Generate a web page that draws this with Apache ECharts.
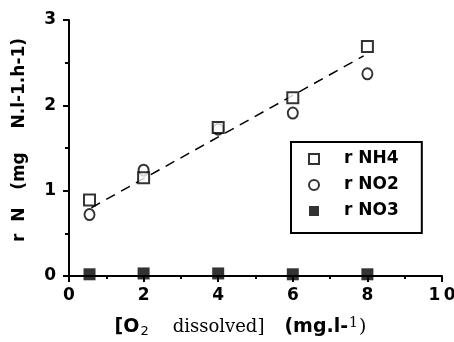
<!DOCTYPE html>
<html>
<head>
<meta charset="utf-8">
<script src="https://cdn.jsdelivr.net/npm/echarts@6/dist/echarts.min.js"></script>
<style>
  html, body { margin: 0; padding: 0; background: #fff; }
  #chart { width: 454px; height: 342px; }
</style>
</head>
<body>
<div id="chart"></div>
<script>
// === Datos ==================================================================
const o2      = [0.55, 2, 4, 6, 8];
const rNH4    = [0.89, 1.15, 1.74, 2.09, 2.69];
const rNO2    = [0.72, 1.24, 1.72, 1.91, 2.37];
const rNO3    = [0.02, 0.03, 0.03, 0.02, 0.02];
const trendX  = [0.6, 7.9];
const trendY  = [0.80, 2.58];
const xTicks  = ['0', '2', '4', '6', '8', '1\u20090'];
const yTicks  = ['0', '1', '2', '3'];
const names   = ['r NH4', 'r NO2', 'r NO3'];

// === Estilos =================================================================
const ink = '#000';
const sans = 'DejaVu Sans, Liberation Sans, sans-serif';
const serif = 'DejaVu Serif, Liberation Serif, serif';
const pts = ys => o2.map((x, i) => [x, ys[i]]);

const tickFont = { fontFamily: sans, fontWeight: 'bold', fontSize: 17, color: ink };
const axisLine = { show: true, onZero: false, lineStyle: { color: ink, width: 2 } };
const axisTick = { show: true, length: 6, lineStyle: { color: ink, width: 2 } };

const chart = echarts.init(document.getElementById('chart'));
chart.setOption({
  animation: false,
  grid: { left: 69, right: 12, top: 20, bottom: 66, outerBoundsMode: 'none', containLabel: false },
  legend: {
    data: names, orient: 'vertical', left: 291, top: 142,
    padding: [7, 23, 12, 17], itemGap: 6, itemWidth: 10, itemHeight: 10,
    borderColor: ink, borderWidth: 2,
    textStyle: { fontFamily: sans, fontWeight: 'bold', fontSize: 17, lineHeight: 20, color: ink, padding: [0, 0, 0, 20] }
  },
  xAxis: {
    type: 'value', min: 0, max: 10, interval: 2,
    axisLine, axisTick,
    minorTick: { show: true, splitNumber: 2, length: 3, lineStyle: { color: ink, width: 2 } },
    splitLine: { show: false },
    axisLabel: { ...tickFont, margin: 11, formatter: v => xTicks[Math.round(v / 2)] },
    name: '{b|[O}{sub|2}{s|dissolved]}{b2|(mg.l-}{sup|1}{p|)}',
    nameLocation: 'middle', nameGap: 40,
    nameTextStyle: {
      padding: [0, 30, 0, 0],
      rich: {
        b: { fontFamily: sans, fontWeight: 'bold', fontSize: 19, color: ink },
        b2: { fontFamily: sans, fontWeight: 'bold', fontSize: 19, color: ink, padding: [0, 0, 0, 20] },
        s: { fontFamily: serif, fontSize: 18, color: ink, padding: [0, 0, 0, 24] },
        sub: { fontFamily: sans, fontSize: 13, color: ink, padding: [9, 0, 0, 1] },
        sup: { fontFamily: serif, fontSize: 14, color: ink, padding: [0, 1, 9, 1] },
        p: { fontFamily: serif, fontSize: 19, color: ink }
      }
    }
  },
  yAxis: {
    type: 'value', min: 0, max: 3, interval: 1,
    axisLine, axisTick,
    minorTick: { show: true, splitNumber: 2, length: 4, lineStyle: { color: ink, width: 2 } },
    splitLine: { show: false },
    axisLabel: { ...tickFont, margin: 13, formatter: v => yTicks[Math.round(v)] },
    name: 'r  N   (mg    N.l-1.h-1)', nameLocation: 'middle', nameGap: 41,
    nameTextStyle: { fontFamily: sans, fontWeight: 'bold', fontSize: 17, color: ink, padding: [0, 0, 0, 16] }
  },
  series: [
    { name: 'trend', type: 'line', data: trendX.map((x, i) => [x, trendY[i]]), symbol: 'none',
      lineStyle: { color: ink, width: 1.5, type: [10, 7] }, z: 1 },
    { name: names[0], type: 'scatter', data: pts(rNH4), symbol: 'rect', symbolSize: 11,
      itemStyle: { color: '#fff', borderColor: ink, borderWidth: 2 }, z: 3 },
    { name: names[1], type: 'scatter', data: pts(rNO2), symbol: 'circle', symbolSize: [10, 11],
      itemStyle: { color: 'rgba(255,255,255,0)', borderColor: ink, borderWidth: 2 }, z: 2 },
    { name: names[2], type: 'scatter', data: pts(rNO3), symbol: 'rect', symbolSize: 12,
      itemStyle: { color: ink }, z: 4 }
  ]
});
</script>
</body>
</html>
